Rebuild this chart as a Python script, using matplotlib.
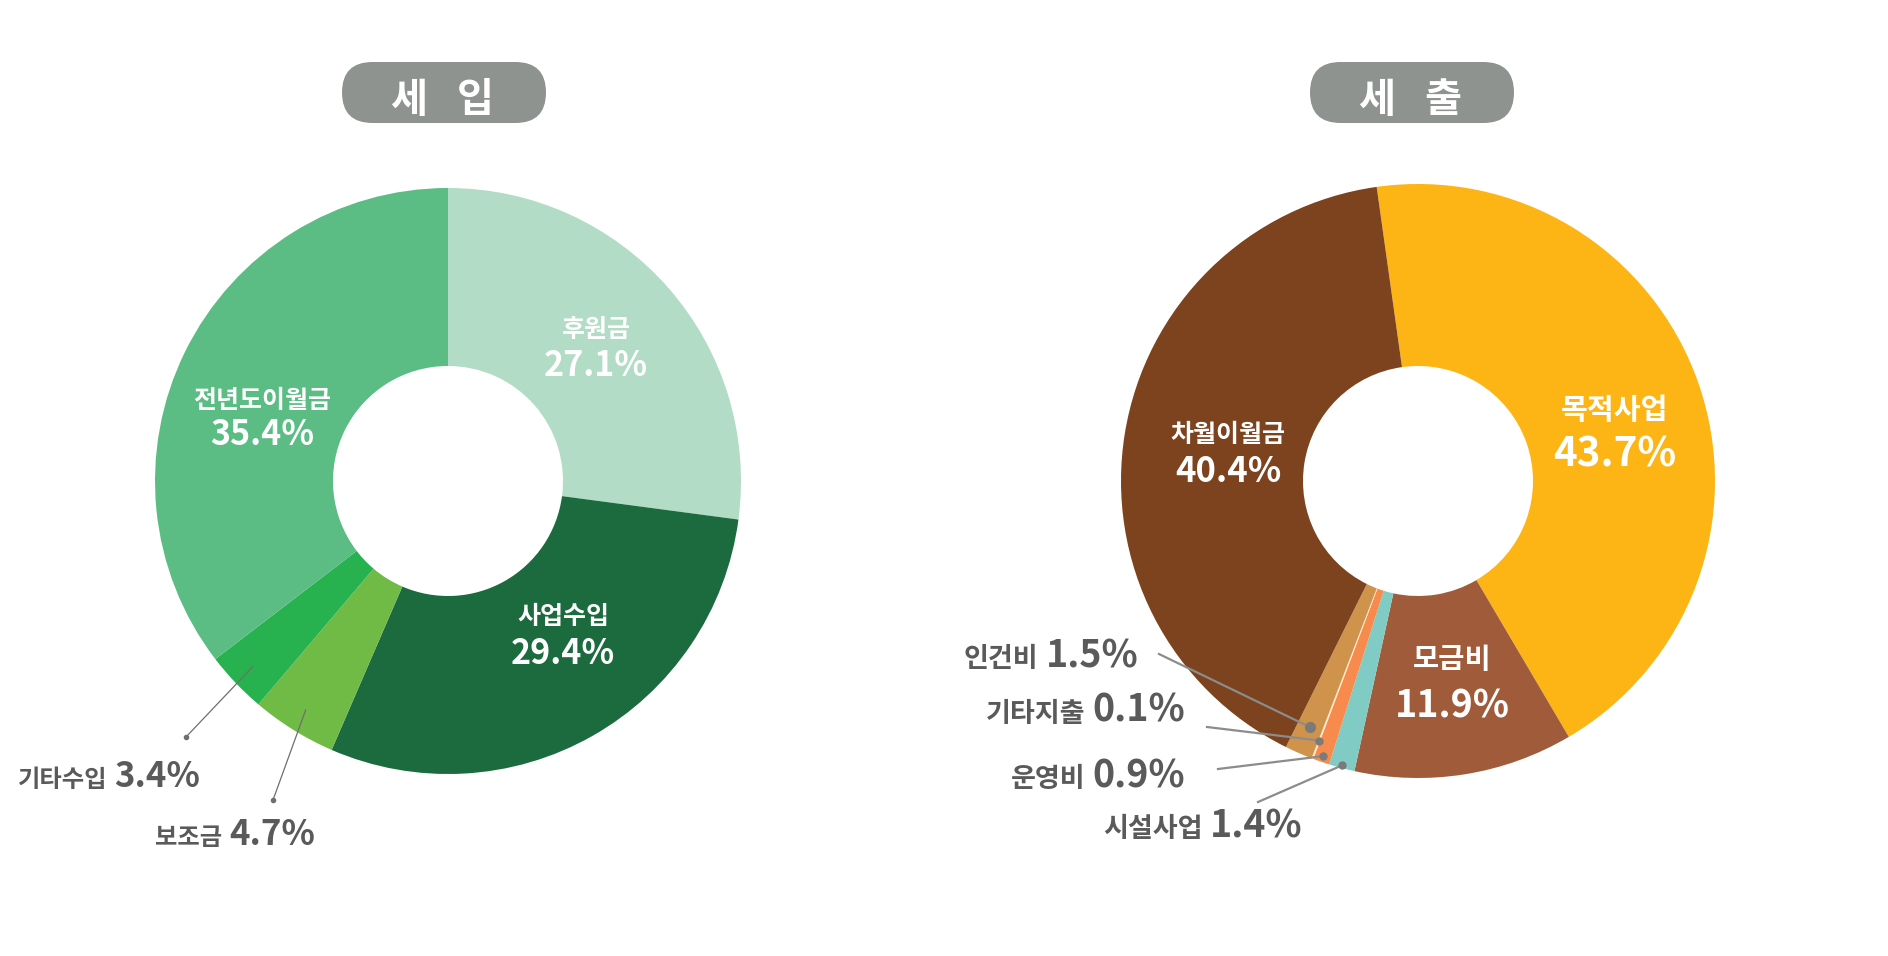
import matplotlib
matplotlib.use("Agg")
import numpy as np
import matplotlib.pyplot as plt
from matplotlib.patches import FancyBboxPatch

plt.rcParams['font.family'] = ['Noto Sans CJK KR', 'DejaVu Sans']

W, H = 1888, 956

titles = ['세입', '세출']

# 세입
in_labels = ['후원금', '사업수입', '보조금', '기타수입', '전년도이월금']
in_values = [27.1, 29.4, 4.7, 3.4, 35.4]
in_colors = ['#b3dcc6', '#1b6b3e', '#70bb46', '#27b14f', '#5bbd83']

# 세출
out_labels = ['목적사업', '모금비', '시설사업', '운영비', '기타지출', '인건비', '차월이월금']
out_values = [43.7, 11.9, 1.4, 0.9, 0.1, 1.5, 40.4]
out_colors = ['#fdb515', '#a05c3a', '#80cbc3', '#f68b4d', '#fde8c8', '#d0934b', '#7d421e']


def Y(y):
    # pixel row (from top) -> data y
    return H - y


fig = plt.figure(figsize=(W / 100, H / 100), dpi=100)
ax = fig.add_axes([0, 0, 1, 1])
rend = fig.canvas.get_renderer()

R1, C1 = 293, (448, Y(481))
R2, C2 = 297, (1418, Y(481))
HOLE = 115

w_in, _ = ax.pie(in_values, colors=in_colors, startangle=90, counterclock=False,
                 center=C1, radius=R1,
                 wedgeprops=dict(width=R1 - HOLE, linewidth=0))
w_out, _ = ax.pie(out_values, colors=out_colors, startangle=98, counterclock=False,
                  center=C2, radius=R2,
                  wedgeprops=dict(width=R2 - HOLE, linewidth=0))
ax.set_xlim(0, W)
ax.set_ylim(0, H)
ax.set_aspect('equal')
ax.axis('off')


def anchor(w, frac):
    a = np.deg2rad((w.theta1 + w.theta2) / 2)
    cx, cy = w.center
    return cx + frac * w.r * np.cos(a), cy + frac * w.r * np.sin(a)


# title pills
for cx, title in zip([444, 1412], titles):
    ax.add_patch(FancyBboxPatch((cx - 102, Y(123)), 204, 61,
                                boxstyle='round,pad=0,rounding_size=30.5',
                                fc='#8f9390', ec='none'))
    for dx, ch in zip([-35, 31], title):
        ax.text(cx + dx, Y(112), ch, ha='center', va='baseline', fontsize=29,
                fontweight='bold', color='white')

# labels inside the rings
inner = [
    (in_labels[0], in_values[0], 596, 337, 376, 18, 24.5),
    (in_labels[1], in_values[1], 563, 624, 664, 18, 24.5),
    (in_labels[4], in_values[4], 262, 408, 445, 18, 24.5),
    (out_labels[6], out_values[6], 1228, 442, 482, 18, 25),
    (out_labels[0], out_values[0], 1615, 419, 466, 21, 29),
    (out_labels[1], out_values[1], 1452, 668, 717, 20.5, 27),
]
for name, val, x, yn, yp, fs1, fs2 in inner:
    ax.text(x, Y(yn), name, ha='center', va='baseline', fontsize=fs1,
            fontweight='bold', color='white')
    ax.text(x, Y(yp), f'{val}%', ha='center', va='baseline', fontsize=fs2,
            fontweight='bold', color='white')


def side_label(x, y, name, val, fs1, fs2):
    t = ax.text(x, Y(y), name, ha='left', va='baseline', fontsize=fs1,
                fontweight='bold', color='#5a5a5a')
    bb = t.get_window_extent(renderer=rend)
    ax.text(bb.x1 + 7, Y(y), f'{val}%', ha='left', va='baseline', fontsize=fs2,
            fontweight='bold', color='#5a5a5a')


# 세입 small slices
for i, lx, ly, tx, ty in [(3, 186, 737, 18, 787), (2, 273, 800, 155, 845)]:
    px, py = anchor(w_in[i], 0.92)
    ax.plot([px, lx], [py, Y(ly)], color='#6f6f6f', lw=0.9)
    ax.plot(lx, Y(ly), 'o', ms=3, color='#6f6f6f')
    side_label(tx, ty, in_labels[i], in_values[i], 17.5, 25)

# 세출 small slices
for i, frac, lx, ly, tx, ty, ms in [(5, 0.905, 1159, 654, 964, 667, 7),
                                    (4, 0.935, 1207, 727, 986, 722, 5),
                                    (3, 0.98, 1218, 769, 1011, 787, 5),
                                    (2, 0.99, 1258, 802, 1103, 837, 5)]:
    px, py = anchor(w_out[i], frac)
    ax.plot([lx, px], [Y(ly), py], color='#8c8c8c', lw=1.6)
    ax.plot(px, py, 'o', ms=ms, color='#7a7a7a')
    side_label(tx, ty, out_labels[i], out_values[i], 19.5, 27)

fig.savefig('out.png', dpi=100, facecolor='white')
